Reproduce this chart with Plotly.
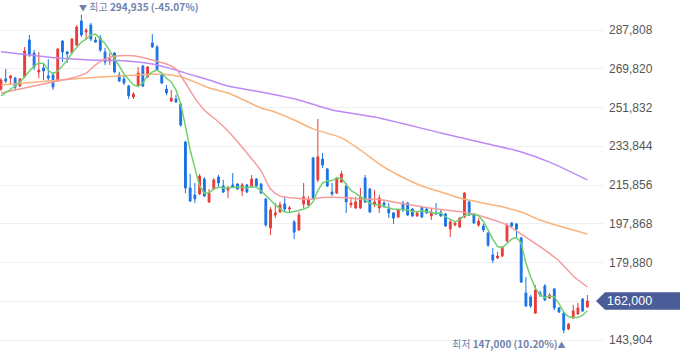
import plotly.graph_objects as go

# ---------------- data ----------------
idx = list(range(125))

opens = [
    260400, 265100, 265500, 265500, 261800, 266000, 283200, 277100, 268300, 270200,
    266500, 266900, 264100, 282700, 277600, 277100, 280800, 292000, 286900, 290100,
    283200, 284100, 277600, 273400, 277100, 266900, 265100, 261800, 256700, 261800,
    271100, 266000, 281800, 279900, 266900, 260400, 254800, 255800, 253500, 235800,
    214500, 211200, 211700, 218600, 208000, 214000, 219600, 215400, 213500, 215900,
    216300, 213100, 215900, 214900, 218600, 216300, 209400, 195900, 201900, 203300,
    207000, 204700, 198700, 195000, 207000, 206600, 228400, 218200, 227900, 223300,
    212600, 212100, 217200, 215400, 206600, 205200, 205200, 219100, 214000, 206600,
    205200, 207500, 204700, 202900, 201000, 207500, 207500, 204700, 201500, 205600,
    204700, 201500, 202900, 203300, 202400, 195400, 197300, 196400, 201000, 208000,
    202400, 197300, 196800, 193600, 183400, 182000, 182900, 189900, 198200, 197800,
    191300, 165700, 163900, 156400, 165700, 169000, 163400, 167600, 158800, 156400,
    149000, 154100, 156000, 162900, 159200]

highs = [
    265500, 269700, 266900, 266000, 265500, 279900, 285500, 278500, 277600, 272500,
    274300, 268300, 279500, 283200, 278100, 284100, 290100, 294935, 288700, 291100,
    284600, 285500, 279500, 277100, 277600, 268300, 266900, 262300, 259000, 270600,
    271600, 271100, 285900, 280800, 267400, 262300, 260000, 257600, 253900, 236300,
    221000, 216800, 221000, 219600, 214000, 219100, 220500, 218200, 215400, 221400,
    216800, 216800, 216300, 220500, 219100, 216800, 209800, 205600, 207500, 208000,
    210700, 206100, 199600, 203300, 216800, 210700, 228900, 246500, 230700, 223700,
    216800, 219600, 222400, 216800, 210300, 210300, 214500, 220500, 214500, 213500,
    211200, 208900, 207500, 203300, 204700, 208400, 208000, 205200, 203300, 206100,
    205600, 205200, 207500, 204300, 202900, 199600, 199100, 201000, 212600, 208400,
    202900, 200500, 197800, 194000, 186600, 184800, 187500, 198200, 198700, 198200,
    191700, 173100, 164800, 169400, 166700, 169900, 165700, 168000, 159200, 156900,
    151800, 160200, 161100, 163400, 164800]

lows = [
    259500, 263200, 262700, 259500, 261300, 265500, 275300, 269200, 265500, 264600,
    264100, 260000, 263700, 273000, 272500, 276700, 280400, 284600, 283200, 282700,
    281800, 277600, 271600, 271600, 267800, 263700, 262300, 255800, 255800, 261300,
    261300, 265500, 279500, 268800, 262700, 257600, 254400, 253900, 242800, 212100,
    208000, 207500, 211200, 210300, 207500, 213500, 214900, 212100, 209800, 214500,
    213500, 210700, 212100, 214500, 214900, 211700, 196400, 192600, 200500, 202900,
    203300, 202900, 190800, 194500, 205200, 206100, 208900, 217200, 223700, 214900,
    210700, 211700, 216800, 202900, 205200, 204700, 204700, 207500, 202900, 205600,
    202900, 205200, 200500, 197800, 200500, 203300, 201500, 201000, 201000, 200500,
    202400, 199600, 201900, 201000, 196400, 191700, 196800, 195900, 200500, 201500,
    197800, 196400, 194000, 187100, 179600, 181500, 182400, 189400, 196400, 191700,
    170400, 159200, 158800, 156000, 163900, 162000, 162900, 157800, 156400, 147000,
    148500, 153700, 155500, 156900, 158800]

closes = [
    264600, 264100, 266500, 261300, 265100, 278100, 276200, 270600, 269200, 268800,
    265500, 261300, 279000, 277600, 276700, 283600, 289200, 285500, 287800, 283600,
    282200, 278500, 273000, 274300, 268300, 264100, 263200, 257200, 258100, 267800,
    261800, 270600, 279900, 269200, 263200, 258600, 256200, 254400, 243700, 214500,
    208400, 209400, 220000, 210700, 212100, 218200, 216800, 212600, 214500, 214900,
    214000, 215900, 212600, 218600, 215400, 212100, 197300, 204300, 202900, 206600,
    204700, 205200, 194000, 201900, 210300, 209400, 209800, 228900, 225100, 215400,
    211700, 219100, 221000, 208000, 207500, 208000, 210300, 208000, 203300, 208000,
    209800, 206600, 202900, 200500, 204300, 204300, 201900, 201500, 202900, 201000,
    202900, 203300, 202400, 201500, 196800, 198700, 198200, 200500, 212100, 201900,
    198200, 199100, 195000, 188000, 181000, 182900, 187100, 197300, 196800, 195400,
    170800, 159700, 159700, 167100, 164800, 162500, 164800, 158800, 156900, 148500,
    151300, 157400, 158800, 157400, 162000]

ma5 = [
    257200, 258600, 260000, 261800, 263700, 266000, 268800, 271100, 272500, 272300,
    269200, 267400, 268800, 271300, 273600, 277100, 279900, 282200, 283600, 285500,
    285900, 283900, 281500, 278100, 274800, 271100, 267400, 264600, 262300, 261600,
    263200, 266500, 268300, 269200, 267800, 265400, 263700, 260000, 253500, 243200,
    232100, 223700, 215400, 212100, 212300, 214000, 214900, 214500, 214700, 214800,
    214800, 214800, 214500, 215100, 214800, 213100, 211200, 208900, 206600, 205000,
    203300, 203100, 203500, 204000, 204700, 205600, 208100, 213300, 216800, 217700,
    217900, 219100, 219000, 215900, 213300, 212000, 210500, 208700, 207400, 206800,
    206600, 205900, 205400, 204600, 204600, 204300, 204300, 203600, 203500, 203800,
    203600, 203100, 202600, 202900, 201000, 199800, 198700, 199800, 201700, 202300,
    202300, 201600, 198900, 195000, 190600, 187300, 186800, 188700, 190800, 191500,
    188900, 179600, 173100, 168000, 164800, 163600, 164300, 163900, 160800, 156900,
    154700, 154400, 154400, 155400, 157500]

ma20_idx = [0, 4, 8, 12, 15, 18, 20, 22, 25, 28, 32, 35, 37, 39, 41, 43, 46, 48, 52, 55,
            57, 59, 62, 65, 68, 72, 76, 80, 84, 89, 93, 97, 100, 103, 107, 110, 114, 118, 121, 124]
ma20 = [258600, 260400, 262300, 264100, 265500, 267800, 271600, 274300, 275800, 275800,
        273900, 272000, 269700, 263200, 256200, 250700, 245100, 240900, 230700, 222400,
        214000, 210700, 209800, 209200, 210000, 210100, 209400, 209100, 207600, 205800,
        204500, 203500, 202400, 200400, 197300, 193100, 187200, 180600, 173600, 168500]

ma60_idx = [0, 10, 21, 27, 34, 38, 42, 44, 48, 55, 57, 62, 66, 72, 76, 80, 84, 89, 93, 97,
            100, 103, 107, 110, 114, 118, 121, 124]
ma60 = [262300, 264100, 266000, 266700, 267400, 266100, 262700, 260900, 258600, 251600,
        250400, 246000, 241900, 237700, 232100, 225600, 220500, 215400, 212600, 209800,
        208400, 207000, 205200, 203300, 199600, 196800, 195000, 193100]

ma120_idx = [0, 6, 12, 19, 25, 32, 37, 39, 44, 48, 55, 63, 70, 79, 93, 103, 110, 116, 124]
ma120 = [277700, 276200, 274800, 273900, 273600, 272000, 269200, 267800, 264600, 261800,
         259000, 255300, 250700, 247400, 240000, 234900, 231200, 226500, 218200]

tick_vals = [143904, 161892, 179880, 197868, 215856, 233844, 251832, 269820, 287808]
tick_text = ["143,904", "", "179,880", "197,868", "215,856", "233,844", "251,832", "269,820", "287,808"]

high_idx, high_val, high_text = 17, 294935, "294,935 (-45.07%)"
low_idx, low_val, low_text = 119, 147000, "147,000 (10.20%)"
last_val, last_text = 162000, "162,000"

# ---------------- style ----------------
RED = "#ea3a3a"
BLUE = "#1a73e6"
ANN = "#6f82ad"
KFONT = "Noto Sans CJK KR, Liberation Sans, sans-serif"
NFONT = "Liberation Sans, Arial, sans-serif"

fig = go.Figure()
fig.add_trace(go.Candlestick(
    x=idx, open=opens, high=highs, low=lows, close=closes,
    increasing=dict(line=dict(color=RED, width=1), fillcolor=RED),
    decreasing=dict(line=dict(color=BLUE, width=1), fillcolor=BLUE),
    whiskerwidth=0, showlegend=False, hoverinfo="skip"))

def ma_line(xs, ys, color, width=1.5, shape="spline"):
    fig.add_trace(go.Scatter(x=xs, y=ys, mode="lines", showlegend=False, hoverinfo="skip",
                             line=dict(color=color, width=width, shape=shape, smoothing=0.8)))

ma_line(ma120_idx, ma120, "#bb8af5")
ma_line(ma60_idx, ma60, "#f9b37c")
ma_line(ma20_idx, ma20, "#f59c9c")
ma_line(idx, ma5, "#72d072", 1.5, "linear")

# badge for the last price
half = 4085
fig.add_shape(type="path", xref="paper", yref="y",
              path=f"M 0.9884,{last_val} L 1.0033,{last_val + half} L 1.13,{last_val + half} "
                   f"L 1.13,{last_val - half} L 1.0033,{last_val - half} Z",
              fillcolor="#4a5d98", line=dict(width=0), layer="above")
fig.add_annotation(x=1.0439, xref="paper", y=last_val, yref="y", text=last_text,
                   showarrow=False, xanchor="center", yanchor="middle",
                   font=dict(family=NFONT, size=12.5, color="white"))

fig.add_annotation(x=high_idx, y=high_val,
                   text=f"<span style='font-size:8px'>▼</span> 최고 <b>{high_text}</b>",
                   showarrow=False, xanchor="left", yanchor="bottom", xshift=-4, yshift=-1,
                   font=dict(family=KFONT, size=10, color=ANN))
fig.add_annotation(x=low_idx, y=low_val,
                   text=f"최저 <b>{low_text}</b><span style='font-size:8px'>▲</span>",
                   showarrow=False, xanchor="right", yanchor="top", xshift=4, yshift=-1,
                   font=dict(family=KFONT, size=10, color=ANN))

fig.update_layout(
    width=680, height=358,
    margin=dict(l=0, r=77, t=0, b=0),
    plot_bgcolor="white", paper_bgcolor="white",
    showlegend=False, boxgap=0.45, hovermode=False,
    xaxis=dict(range=[-0.21, 127.3], visible=False, rangeslider=dict(visible=False)),
    yaxis=dict(side="right", range=[135548, 301732], tickvals=tick_vals, ticktext=tick_text,
               showgrid=True, gridcolor="#eef0f3", gridwidth=1, zeroline=False, showline=False,
               ticks="", ticklabelstandoff=5,
               tickfont=dict(family=NFONT, size=12, color="#555555")),
)

fig.write_html("out.html", config={"displayModeBar": False},
               post_script="document.body.style.margin='0';document.body.style.overflow='hidden';")
